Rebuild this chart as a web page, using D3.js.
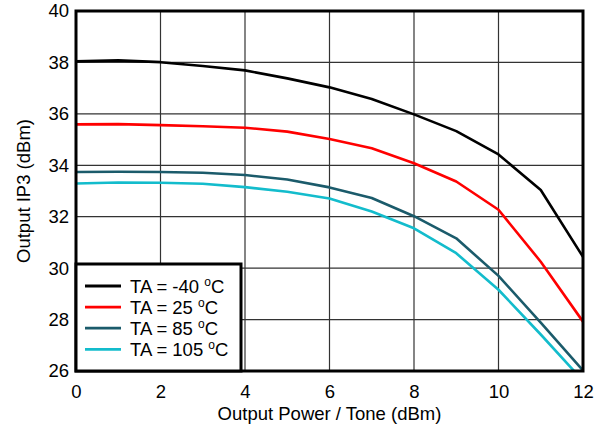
<!DOCTYPE html>
<html><head><meta charset="utf-8">
<script src="https://cdn.jsdelivr.net/npm/d3@7"></script>
<style>body{margin:0;background:#fff}svg{display:block}text{font-family:"Liberation Sans",Arial,sans-serif;fill:#000}</style>
</head><body><svg id="c" width="602" height="429"></svg>
<script>
const xValues = [0,1,2,3,4,5,6,7,8,9,10,11,12];
const seriesNames = ["TA = -40", "TA = 25", "TA = 85", "TA = 105"];
const seriesColors = ["#000000", "#ff0000", "#1b5b6b", "#13bccc"];
const ta_m40 = [38.04,38.08,38.01,37.86,37.69,37.38,37.03,36.58,35.98,35.33,34.42,33.04,30.44];
const ta_25  = [35.59,35.60,35.56,35.52,35.46,35.31,35.02,34.66,34.08,33.37,32.27,30.25,27.92];
const ta_85  = [33.74,33.75,33.74,33.71,33.62,33.45,33.14,32.73,32.02,31.16,29.70,27.88,26.02];
const ta_105 = [33.29,33.33,33.32,33.28,33.15,32.97,32.71,32.20,31.55,30.58,29.16,27.42,25.62];
const seriesData = [ta_m40, ta_25, ta_85, ta_105];
const xTicks = [0,2,4,6,8,10,12];
const yTicks = [26,28,30,32,34,36,38,40];

const FS = 18.5;
const svg = d3.select("#c");
const L=76, R=583, T=11, B=371;
const x = d3.scaleLinear().domain([0,12]).range([L,R]);
const y = d3.scaleLinear().domain([26,40]).range([B,T]);

svg.append("defs").append("clipPath").attr("id","clip")
  .append("rect").attr("x",L).attr("y",T).attr("width",R-L).attr("height",B-T);

// grid
const g = svg.append("g");
g.selectAll(".gx").data(xTicks.slice(1,-1)).join("line")
  .attr("x1",d=>x(d)).attr("x2",d=>x(d)).attr("y1",T).attr("y2",B)
  .attr("stroke","#333").attr("stroke-width",1.2);
g.selectAll(".gy").data(yTicks.slice(1,-1)).join("line")
  .attr("y1",d=>y(d)).attr("y2",d=>y(d)).attr("x1",L).attr("x2",R)
  .attr("stroke","#333").attr("stroke-width",1.2);

// lines
const line = d3.line().x((d,i)=>x(xValues[i])).y(d=>y(d));
svg.append("g").attr("clip-path","url(#clip)").selectAll("path").data(seriesData).join("path")
  .attr("d",line).attr("fill","none").attr("stroke",(d,i)=>seriesColors[i])
  .attr("stroke-width",2.6).attr("stroke-linejoin","round");

// border
svg.append("rect").attr("x",L).attr("y",T).attr("width",R-L).attr("height",B-T)
  .attr("fill","none").attr("stroke","#000").attr("stroke-width",3);

// axes
const xAxis = svg.append("g").attr("transform",`translate(0,${B})`)
  .call(d3.axisBottom(x).tickValues(xTicks).tickSize(0).tickPadding(14));
xAxis.select(".domain").remove();
xAxis.selectAll("text").attr("font-size",FS).style("font-family",'"Liberation Sans",Arial,sans-serif');
const yAxis = svg.append("g").attr("transform",`translate(${L},0)`)
  .call(d3.axisLeft(y).tickValues(yTicks).tickSize(0).tickPadding(7));
yAxis.select(".domain").remove();
yAxis.selectAll("text").attr("font-size",FS).style("font-family",'"Liberation Sans",Arial,sans-serif');

svg.append("text").attr("x",(L+R)/2).attr("y",420).attr("text-anchor","middle")
  .attr("font-size",FS).text("Output Power / Tone (dBm)");
svg.append("text").attr("transform","translate(30,191) rotate(-90)").attr("text-anchor","middle")
  .attr("font-size",FS).text("Output IP3 (dBm)");

// legend
const lg = svg.append("g");
lg.append("rect").attr("x",L).attr("y",264).attr("width",165).attr("height",B-264)
  .attr("fill","#fff").attr("stroke","#000").attr("stroke-width",3);
const rows = lg.selectAll(".row").data(seriesNames).join("g")
  .attr("transform",(d,i)=>`translate(0,${286+i*21.1})`);
rows.append("line").attr("x1",85).attr("x2",121).attr("y1",0).attr("y2",0)
  .attr("stroke",(d,i)=>seriesColors[i]).attr("stroke-width",2.8);
const t = rows.append("text").attr("x",130).attr("y",6.5).attr("font-size",FS);
t.append("tspan").text(d=>d+" ");
t.append("tspan").attr("font-size",12).attr("dy",-7).text("o");
t.append("tspan").attr("dy",7).text("C");
</script></body></html>
